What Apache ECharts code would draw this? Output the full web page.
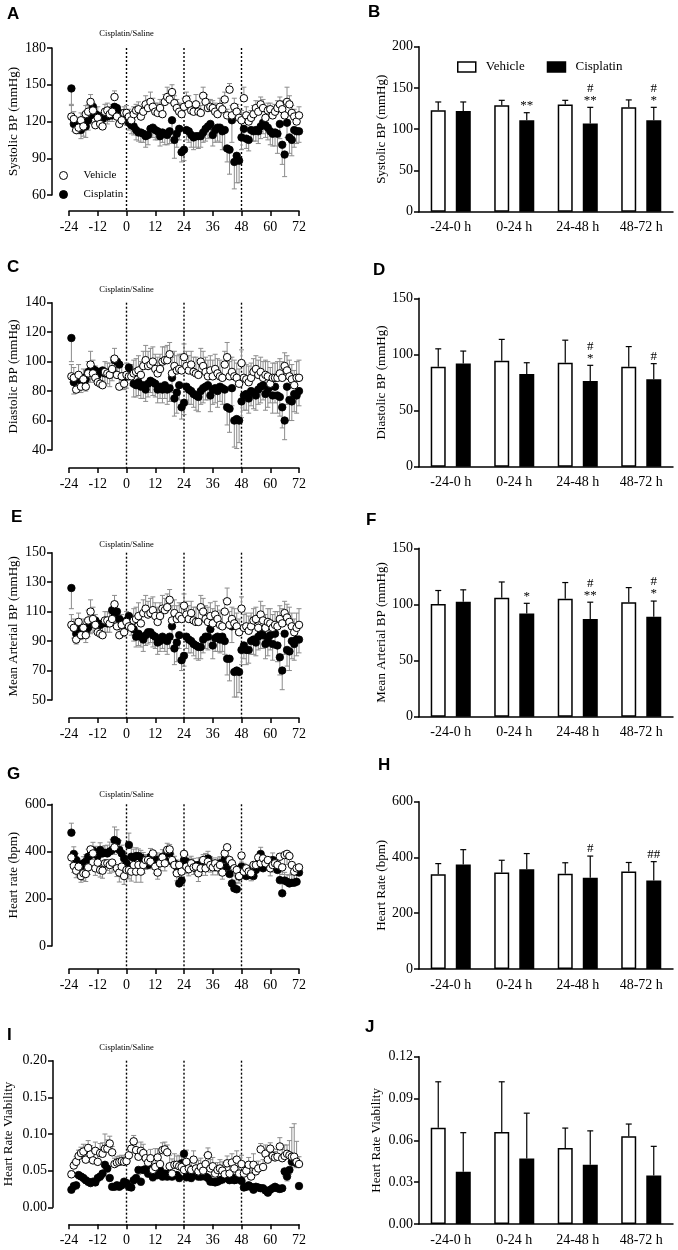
<!DOCTYPE html>
<html>
<head>
<meta charset="utf-8">
<script src="https://cdn.jsdelivr.net/npm/echarts@6/dist/echarts.min.js"></script>
<style>
  html, body { margin: 0; padding: 0; background: #fff; }
  #chart { width: 678px; height: 1250px; }
</style>
</head>
<body>
<div id="chart"></div>
<script>
// hourly samples, -23 h .. 72 h
const hours = [];
for (let h = -23; h <= 72; h++) hours.push(h);
const treatmentHours = [0, 24, 48];
const groups = ['-24-0 h', '0-24 h', '24-48 h', '48-72 h'];

// ---- A: systolic BP time course ----
const sbpVehicle = [124,122,113,115,121,116,126,128,136,129,117,123, 118,116,128,129,126,128,140,124,118,121,127,127,
  124,121,126,129,130,124,128,134,131,136,132,128, 127,131,126,136,140,138,144,135,131,128,126,132,
  138,134,129,128,134,128,127,141,136,131,132,131, 128,126,132,130,138,125,146,125,132,128,123,121,
  139,125,120,123,126,131,128,134,131,123,129,130, 125,128,131,134,130,125,136,134,127,124,120,125];
const sbpVehicleErr = [9,6,5,6,6,6,7,6,6,6,8,9, 8,8,6,6,6,6,5,5,5,6,5,6, 6,6,6,5,6,7,6,7,7,8,7,7, 8,7,7,6,8,7,6,6,7,7,8,7,
  6,7,6,7,8,7,6,7,6,7,6,6, 7,6,7,7,6,5,5,8,7,6,5,8, 9,7,6,6,7,6,5,6,7,6,6,5, 6,6,6,6,7,7,12,7,6,6,7,7];
const sbpCisplatin = [147,118,117,117,113,116,116,121,125,132,126,125, 123,122,126,124,125,125,132,131,127,124,123,123,
  119,117,116,113,111,111,110,108,109,114,115,113, 112,108,111,110,109,112,121,105,110,114,95,97,
  113,112,109,107,108,108,108,111,114,116,118,109, 113,115,115,112,113,98,97,121,87,92,88,107,
  114,106,105,113,112,113,112,116,119,117,115,112, 110,111,110,118,101,93,119,107,105,113,112,112];
const sbpCisplatinErr = [13,6,6,7,7,8,9,8,7,8,6,8, 6,7,6,6,5,5,6,5,6,6,5,6, 6,7,7,8,7,8,7,9,8,7,8,8, 7,8,8,9,8,10,12,15,11,9,8,9,
  8,9,10,10,9,10,9,8,10,10,11,9, 10,11,12,15,16,11,20,18,22,22,18,10, 9,8,9,9,8,9,10,10,9,10,10,11, 10,11,16,12,16,18,12,13,13,14,10,9];

// ---- C: diastolic BP time course ----
const dbpVehicle = [90,89,81,91,83,88,83,92,98,92,89,86, 85,84,93,92,91,95,102,91,83,90,85,91,
  90,90,92,93,94,91,97,101,97,98,100,95, 92,95,100,101,101,105,92,97,94,95,94,103,
  97,94,98,93,92,91,100,97,93,90,94,90, 95,92,90,89,98,103,90,93,90,89,85,99,
  89,88,86,89,93,95,91,93,89,91,90,85, 89,89,89,92,89,97,94,90,88,84,89,89];
const dbpVehicleErr = [8,7,8,7,8,7,7,8,9,9,8,8, 8,8,7,7,8,8,7,8,7,8,7,8, 8,8,9,9,10,9,10,10,10,11,10,10, 11,10,10,9,10,8,11,10,10,10,11,9,
  10,10,9,10,11,10,9,10,10,11,10,11, 10,10,11,10,9,10,10,10,11,10,10,9, 10,10,11,10,9,9,10,10,11,10,10,11, 10,10,11,10,11,9,10,11,10,10,11,12];
const dbpCisplatin = [116,86,88,90,87,89,88,93,94,95,94,91, 93,94,92,92,91,94,101,100,98,90,89,90,
  96,92,85,84,86,83,84,81,85,87,86,85, 81,83,81,84,81,82,89,75,79,84,69,72,
  83,81,80,78,77,76,80,82,83,84,77,81, 82,80,83,82,81,69,68,82,60,61,60,73,
  77,78,75,80,79,77,81,83,84,78,81,83, 77,83,77,76,69,60,83,74,73,78,77,80];
const dbpCisplatinErr = [16,8,8,7,8,7,8,7,8,7,8,7, 8,7,8,7,8,7,7,8,8,8,8,8, 8,8,9,8,9,8,9,8,9,8,9,9, 9,8,9,9,10,9,10,12,14,10,8,8,
  9,10,9,9,10,10,9,10,9,10,11,10, 10,11,10,11,10,12,16,12,18,20,15,11, 10,11,10,10,11,10,10,11,10,11,12,11, 12,11,12,13,14,13,12,14,13,12,12,10];

// ---- E: mean arterial BP time course ----
const mapVehicle = [101,99,91,103,94,99,94,104,110,105,101,96, 95,94,104,104,102,105,115,100,94,101,96,103,
  100,99,104,105,107,102,109,112,108,109,111,107, 103,107,112,111,113,118,104,109,105,107,105,114,
  108,105,109,104,103,103,113,110,105,103,107,102, 108,105,101,100,110,117,101,105,102,100,96,112,
  99,100,97,100,104,105,99,108,104,99,103,102, 99,101,100,105,102,109,106,103,100,96,99,101];
const mapVehicleErr = [7,6,7,6,7,6,7,7,8,8,7,7, 7,7,6,6,7,7,6,7,6,7,6,7, 7,7,8,8,9,8,9,9,9,10,9,9, 10,9,9,8,9,7,10,9,9,9,10,8,
  9,9,8,9,10,9,8,9,9,10,9,10, 9,9,10,9,8,9,9,8,10,9,9,8, 9,9,10,9,8,8,9,9,10,9,9,10, 9,9,10,9,10,8,9,10,9,9,10,11];
const mapCisplatin = [126,99,95,98,98,99,96,99,102,102,104,102, 101,102,103,102,103,111,109,110,105,101,100,104,
  107,101,98,93,95,93,91,94,96,96,94,93, 89,90,93,91,90,93,100,85,89,94,77,80,
  93,91,90,88,87,86,86,91,93,93,98,87, 92,93,91,93,90,78,78,100,69,70,69,84,
  87,84,84,90,91,89,93,95,94,88,91,94, 88,95,87,79,70,95,84,83,90,88,91,91];
const mapCisplatinErr = [14,7,7,6,7,6,7,6,7,6,7,6, 7,6,7,6,7,6,6,7,7,7,7,7, 7,7,8,7,8,7,8,7,8,7,8,8, 8,7,8,8,9,8,9,11,13,9,7,7,
  8,9,8,8,9,9,8,9,8,9,10,9, 9,10,9,10,9,11,15,11,17,18,14,10, 9,10,9,9,10,9,9,10,9,10,11,10, 11,10,11,12,13,14,11,13,12,11,11,9];

// ---- G: heart rate time course ----
const hrVehicle = [375,339,319,336,296,308,305,333,409,392,329,353, 322,319,350,350,343,353,418,329,311,336,296,322,
  322,315,343,315,343,315,343,364,364,357,392,336, 311,350,375,350,407,409,364,343,308,343,315,390,
  336,325,350,333,336,308,329,364,329,357,343,333, 350,333,343,311,392,418,364,350,329,322,296,383,
  315,329,315,308,343,343,375,350,371,350,364,329, 343,350,343,378,333,385,390,381,343,315,329,333];
const hrVehicleErr = [30,28,30,28,26,30,32,30,28,26,30,28, 30,32,28,30,35,40,30,35,40,38,35,30, 38,40,35,45,35,45,35,40,30,30,28,30,
  28,30,30,32,28,30,28,30,32,30,30,28, 30,28,30,30,32,35,30,28,30,28,30,32, 30,32,30,28,30,35,28,30,32,30,30,28,
  30,28,30,32,28,30,28,30,30,28,30,32, 30,28,30,32,30,40,45,35,40,35,30,30];
const hrCisplatin = [480,390,364,343,336,350,357,378,385,404,392,381, 407,392,395,392,400,407,449,442,407,392,371,350,
  428,378,375,381,381,375,364,357,343,378,375,364, 364,357,378,364,400,392,357,350,336,265,277,364,
  357,343,350,343,329,343,343,357,364,371,350,343, 333,343,350,322,367,336,305,265,244,240,294,336,
  322,296,301,301,296,322,350,390,329,343,343,336, 364,343,322,279,223,277,272,265,268,268,272,311];
const hrCisplatinErr = [40,30,28,25,25,28,30,32,30,35,30,28, 30,28,30,35,40,45,55,50,40,35,30,28, 50,40,35,35,30,30,32,30,30,35,30,30,
  30,28,30,28,35,38,32,30,28,30,25,30, 28,30,30,28,28,30,32,30,28,30,28,30, 28,30,28,30,30,32,30,32,35,30,30,30,
  28,30,28,28,30,28,30,28,28,30,28,30, 30,28,30,35,40,35,30,35,40,35,30,30];

// ---- I: heart rate variability time course ----
const hrvVehicle = [.045,.057,.062,.070,.074,.076,.065,.081,.072,.064,.077,.062, .074,.073,.080,.080,.087,.075,.059,.061,.062,.063,.062,.063,
  .071,.080,.090,.078,.069,.077,.074,.067,.061,.067,.051,.055, .068,.059,.078,.079,.075,.056,.046,.058,.058,.056,.055,.051,
  .062,.053,.051,.065,.053,.049,.055,.050,.059,.071,.053,.056, .046,.051,.053,.050,.045,.060,.046,.061,.053,.065,.046,.059,
  .046,.050,.058,.042,.058,.049,.053,.079,.055,.073,.065,.080, .070,.068,.069,.083,.067,.070,.073,.071,.069,.069,.062,.059];
const hrvVehicleErr = [.005,.006,.007,.008,.008,.010,.012,.010,.012,.010,.012,.014, .013,.015,.020,.012,.010,.008,.008,.008,.008,.008,.008,.009,
  .010,.010,.008,.010,.010,.012,.012,.010,.010,.012,.015,.025, .012,.015,.010,.010,.010,.015,.020,.015,.012,.015,.014,.015,
  .016,.010,.010,.012,.012,.015,.012,.010,.012,.010,.012,.012, .010,.010,.012,.012,.010,.010,.010,.012,.012,.012,.008,.012,
  .012,.010,.010,.012,.015,.010,.010,.008,.010,.012,.010,.008, .010,.008,.010,.012,.012,.015,.012,.020,.040,.045,.028,.010];
const hrvCisplatin = [.024,.029,.030,.044,.042,.040,.037,.035,.033,.035,.034,.040, .042,.046,.058,.053,.040,.028,.028,.030,.028,.030,.035,.033,
  .028,.027,.037,.040,.051,.035,.051,.052,.046,.053,.041,.044, .044,.051,.042,.046,.042,.046,.042,.044,.044,.040,.060,.073,
  .041,.044,.040,.044,.044,.042,.042,.044,.042,.040,.035,.035, .034,.035,.037,.038,.040,.040,.037,.041,.037,.038,.040,.036,
  .027,.028,.030,.028,.024,.028,.027,.026,.026,.023,.020,.024, .026,.028,.026,.025,.026,.049,.042,.051,.062,.064,.060,.029];
const hrvCisplatinErr = [.004,.005,.005,.005,.004,.005,.004,.005,.004,.005,.004,.005, .005,.005,.006,.005,.004,.004,.004,.004,.004,.004,.005,.004,
  .004,.004,.005,.005,.006,.005,.005,.005,.005,.006,.005,.005, .005,.006,.005,.005,.005,.005,.005,.005,.005,.005,.006,.008,
  .005,.005,.005,.005,.005,.005,.005,.005,.005,.005,.004,.004, .004,.004,.005,.005,.005,.005,.004,.005,.004,.005,.005,.004,
  .004,.004,.004,.004,.004,.004,.004,.004,.004,.004,.003,.004, .004,.004,.004,.004,.004,.006,.006,.006,.007,.006,.006,.004];

// ---- bar panels (mean, error, significance marks over Cisplatin) ----
const sbpBarVehicle = [123, 129, 130, 126.5];
const sbpBarVehicleErr = [10, 6, 5, 9];
const sbpBarCisplatin = [122, 111, 107, 111];
const sbpBarCisplatinErr = [11, 9, 19.5, 15.5];
const sbpSig = ['', '**', '#\n**', '#\n*'];

const dbpBarVehicle = [89, 94.4, 92.7, 89];
const dbpBarVehicleErr = [16, 19, 20, 18];
const dbpBarCisplatin = [92, 82.6, 76.3, 77.8];
const dbpBarCisplatinErr = [11, 10, 14, 14];
const dbpSig = ['', '', '#\n*', '#'];

const mapBarVehicle = [100.4, 106, 105, 102];
const mapBarVehicleErr = [12, 14, 14.5, 13];
const mapBarCisplatin = [102.5, 92, 87, 89];
const mapBarCisplatinErr = [10.5, 9, 15, 14];
const mapSig = ['', '*', '#\n**', '#\n*'];

const hrBarVehicle = [340, 346, 342, 350];
const hrBarVehicleErr = [38, 44, 39, 32];
const hrBarCisplatin = [375, 358, 327, 317];
const hrBarCisplatinErr = [53, 56, 78, 68];
const hrSig = ['', '', '#', '##'];

const hrvBarVehicle = [0.069, 0.066, 0.0545, 0.063];
const hrvBarVehicleErr = [0.033, 0.036, 0.0143, 0.0087];
const hrvBarCisplatin = [0.0375, 0.047, 0.0425, 0.0347];
const hrvBarCisplatinErr = [0.028, 0.0325, 0.0243, 0.021];
const hrvSig = ['', '', '', ''];

const SERIF = '"Liberation Serif", "Times New Roman", serif';
const SANS = '"Liberation Sans", Arial, sans-serif';
const ERR_GRAY = '#8c8c8c';

const option = {
    animation: false,
    backgroundColor: '#fff',
    grid: [], xAxis: [], yAxis: [], series: [], legend: [], graphic: []
};

function axisStyle() {
    return {
        axisLine: { show: true, onZero: false, lineStyle: { color: '#000', width: 1.5 } },
        axisTick: { show: true, inside: false, length: 5, lineStyle: { color: '#000', width: 1.5 } },
        splitLine: { show: false }
    };
}

function fmt(digits) {
    return function (v) { return digits ? v.toFixed(digits) : String(Math.round(v)); };
}

/**
 * Time course panel: scatter of hourly means with one-sided gray error bars.
 */
function addTimePanel(p) {
    const k = option.grid.length;
    option.grid.push({ left: 69, width: 230, top: p.top, height: p.height });
    option.xAxis.push(Object.assign({
        type: 'value', gridIndex: k, min: -24, max: 72, interval: 12, offset: p.xOffset,
        axisLabel: { color: '#000', fontFamily: SERIF, fontSize: 14, margin: 9 }
    }, axisStyle()));
    option.yAxis.push(Object.assign({
        type: 'value', gridIndex: k, min: p.min, max: p.max, interval: p.interval, offset: 69 - p.axisX,
        name: p.name, nameLocation: 'middle', nameGap: p.nameGap,
        nameTextStyle: { color: '#000', fontFamily: SERIF, fontSize: 13 },
        axisLabel: { color: '#000', fontFamily: SERIF, fontSize: 14, margin: 6, formatter: fmt(p.digits) }
    }, axisStyle()));

    // dotted lines at dosing times, down to the shifted x axis
    option.series.push({
        type: 'custom', xAxisIndex: k, yAxisIndex: k, silent: true, z: 1,
        data: treatmentHours.map(function (h) { return [h, p.max]; }),
        renderItem: function (params, api) {
            const h = api.value(0);
            const top = api.coord([h, p.max]);
            const bottom = api.coord([h, p.min]);
            const children = [{
                type: 'line',
                shape: { x1: top[0], y1: top[1], x2: top[0], y2: bottom[1] + p.xOffset },
                style: { stroke: '#000', lineWidth: 1.4, lineDash: [2, 2] }
            }];
            if (h === 0) {
                children.push({
                    type: 'text',
                    style: {
                        text: 'Cisplatin/Saline', x: top[0], y: top[1] - p.labelGap,
                        align: 'center', verticalAlign: 'middle',
                        fontFamily: SERIF, fontSize: 8.5, fill: '#000'
                    }
                });
            }
            return { type: 'group', children: children };
        }
    });

    function errorSeries(values, errs, dir) {
        return {
            type: 'custom', xAxisIndex: k, yAxisIndex: k, silent: true, z: 2,
            data: hours.map(function (h, i) { return [h, values[i], errs[i]]; }),
            renderItem: function (params, api) {
                const x = api.value(0), y = api.value(1), e = api.value(2);
                const a = api.coord([x, y]);
                const b = api.coord([x, y + dir * e]);
                const st = { stroke: ERR_GRAY, lineWidth: 1 };
                return {
                    type: 'group', children: [
                        { type: 'line', shape: { x1: a[0], y1: a[1], x2: b[0], y2: b[1] }, style: st },
                        { type: 'line', shape: { x1: b[0] - 2.5, y1: b[1], x2: b[0] + 2.5, y2: b[1] }, style: st }
                    ]
                };
            }
        };
    }
    option.series.push(errorSeries(p.vehicle, p.vehicleErr, p.vehicleDir));
    option.series.push(errorSeries(p.cisplatin, p.cisplatinErr, -p.vehicleDir));

    option.series.push({
        name: 'Cisplatin', type: 'scatter', xAxisIndex: k, yAxisIndex: k, z: 3,
        symbol: 'circle', symbolSize: 7.5,
        itemStyle: { color: '#000', borderColor: '#000', borderWidth: 0.8, opacity: 1 },
        data: hours.map(function (h, i) { return [h, p.cisplatin[i]]; })
    });
    option.series.push({
        name: 'Vehicle', type: 'scatter', xAxisIndex: k, yAxisIndex: k, z: 4,
        symbol: 'circle', symbolSize: 7.5,
        itemStyle: { color: '#fff', borderColor: '#000', borderWidth: 1, opacity: 1 },
        data: hours.map(function (h, i) { return [h, p.vehicle[i]]; })
    });
}

/**
 * Bar panel: grouped Vehicle / Cisplatin bars with upward error bars.
 */
function addBarPanel(p) {
    const k = option.grid.length;
    const half = 12.5; // half distance between paired bar centres (15 px bars, 10 px gap)
    option.grid.push({ left: 419, width: 254, top: p.top, height: p.height });
    const xs = axisStyle();
    xs.axisTick = { show: false };
    option.xAxis.push(Object.assign({
        type: 'category', gridIndex: k, data: groups,
        axisLabel: { color: '#000', fontFamily: SERIF, fontSize: 14, margin: 9 }
    }, xs));
    option.yAxis.push(Object.assign({
        type: 'value', gridIndex: k, min: 0, max: p.max, interval: p.interval,
        name: p.name, nameLocation: 'middle', nameGap: p.nameGap,
        nameTextStyle: { color: '#000', fontFamily: SERIF, fontSize: 13 },
        axisLabel: { color: '#000', fontFamily: SERIF, fontSize: 14, margin: 6, formatter: fmt(p.digits) }
    }, axisStyle()));

    option.series.push({
        name: 'Vehicle', type: 'bar', xAxisIndex: k, yAxisIndex: k, barWidth: 15, barGap: '67%',
        itemStyle: { color: '#fff', borderColor: '#000', borderWidth: 1.5 },
        data: p.vehicle
    });
    option.series.push({
        name: 'Cisplatin', type: 'bar', xAxisIndex: k, yAxisIndex: k, barWidth: 15, barGap: '67%',
        itemStyle: { color: '#000', borderColor: '#000', borderWidth: 1.5 },
        data: p.cisplatin
    });

    function errorSeries(values, errs, shift, marks) {
        return {
            type: 'custom', xAxisIndex: k, yAxisIndex: k, silent: true, z: 5,
            data: values.map(function (v, i) { return [i, v, errs[i]]; }),
            renderItem: function (params, api) {
                const i = api.value(0), y = api.value(1), e = api.value(2);
                const a = api.coord([i, y]);
                const b = api.coord([i, y + e]);
                const x = a[0] + shift;
                const st = { stroke: '#000', lineWidth: 1.2 };
                const children = [
                    { type: 'line', shape: { x1: x, y1: a[1], x2: x, y2: b[1] }, style: st },
                    { type: 'line', shape: { x1: x - 3, y1: b[1], x2: x + 3, y2: b[1] }, style: st }
                ];
                if (marks && marks[params.dataIndex]) {
                    children.push({
                        type: 'text',
                        style: {
                            text: marks[params.dataIndex], x: x, y: b[1] - 1,
                            align: 'center', verticalAlign: 'bottom', lineHeight: 12,
                            fontFamily: SERIF, fontSize: 13, fill: '#000'
                        }
                    });
                }
                return { type: 'group', children: children };
            }
        };
    }
    option.series.push(errorSeries(p.vehicle, p.vehicleErr, -half, null));
    option.series.push(errorSeries(p.cisplatin, p.cisplatinErr, half, p.sig));
}

addTimePanel({ top: 48, height: 147, axisX: 52, xOffset: 16, min: 60, max: 180, interval: 30, digits: 0,
    name: 'Systolic BP (mmHg)', nameGap: 32, labelGap: 14,
    vehicle: sbpVehicle, vehicleErr: sbpVehicleErr, cisplatin: sbpCisplatin, cisplatinErr: sbpCisplatinErr, vehicleDir: 1 });
addTimePanel({ top: 302.7, height: 147.3, axisX: 52, xOffset: 18, min: 40, max: 140, interval: 20, digits: 0,
    name: 'Diastolic BP (mmHg)', nameGap: 32, labelGap: 13,
    vehicle: dbpVehicle, vehicleErr: dbpVehicleErr, cisplatin: dbpCisplatin, cisplatinErr: dbpCisplatinErr, vehicleDir: 1 });
addTimePanel({ top: 552.7, height: 147.3, axisX: 52, xOffset: 18, min: 50, max: 150, interval: 20, digits: 0,
    name: 'Mean Arterial BP (mmHg)', nameGap: 32, labelGap: 8,
    vehicle: mapVehicle, vehicleErr: mapVehicleErr, cisplatin: mapCisplatin, cisplatinErr: mapCisplatinErr, vehicleDir: 1 });
addTimePanel({ top: 804.3, height: 141.7, axisX: 52, xOffset: 23, min: 0, max: 600, interval: 200, digits: 0,
    name: 'Heart rate (bpm)', nameGap: 32, labelGap: 9.5,
    vehicle: hrVehicle, vehicleErr: hrVehicleErr, cisplatin: hrCisplatin, cisplatinErr: hrCisplatinErr, vehicleDir: -1 });
addTimePanel({ top: 1060.7, height: 146.6, axisX: 53, xOffset: 17, min: 0, max: 0.2, interval: 0.05, digits: 2,
    name: 'Heart Rate Viability', nameGap: 38, labelGap: 13,
    vehicle: hrvVehicle, vehicleErr: hrvVehicleErr, cisplatin: hrvCisplatin, cisplatinErr: hrvCisplatinErr, vehicleDir: 1 });

addBarPanel({ top: 46.7, height: 165, max: 200, interval: 50, digits: 0, name: 'Systolic BP (mmHg)', nameGap: 31,
    vehicle: sbpBarVehicle, vehicleErr: sbpBarVehicleErr, cisplatin: sbpBarCisplatin, cisplatinErr: sbpBarCisplatinErr, sig: sbpSig });
addBarPanel({ top: 298.3, height: 168.4, max: 150, interval: 50, digits: 0, name: 'Diastolic BP (mmHg)', nameGap: 31,
    vehicle: dbpBarVehicle, vehicleErr: dbpBarVehicleErr, cisplatin: dbpBarCisplatin, cisplatinErr: dbpBarCisplatinErr, sig: dbpSig });
addBarPanel({ top: 548.3, height: 168.4, max: 150, interval: 50, digits: 0, name: 'Mean Arterial BP (mmHg)', nameGap: 31,
    vehicle: mapBarVehicle, vehicleErr: mapBarVehicleErr, cisplatin: mapBarCisplatin, cisplatinErr: mapBarCisplatinErr, sig: mapSig });
addBarPanel({ top: 801.7, height: 167.3, max: 600, interval: 200, digits: 0, name: 'Heart Rate (bpm)', nameGap: 31,
    vehicle: hrBarVehicle, vehicleErr: hrBarVehicleErr, cisplatin: hrBarCisplatin, cisplatinErr: hrBarCisplatinErr, sig: hrSig });
addBarPanel({ top: 1056.7, height: 167.3, max: 0.12, interval: 0.03, digits: 2, name: 'Heart Rate Viability', nameGap: 36,
    vehicle: hrvBarVehicle, vehicleErr: hrvBarVehicleErr, cisplatin: hrvBarCisplatin, cisplatinErr: hrvBarCisplatinErr, sig: hrvSig });

// legends: circles for panel A, boxes for panel B
option.legend.push({
    left: 54, top: 165, orient: 'vertical', itemWidth: 8, itemHeight: 8, itemGap: 8,
    selectedMode: false,
    textStyle: { color: '#000', fontFamily: SERIF, fontSize: 11, padding: [0, 0, 0, 11] },
    data: [
        { name: 'Vehicle', icon: 'circle', itemStyle: { color: '#fff', borderColor: '#000', borderWidth: 1 } },
        { name: 'Cisplatin', icon: 'circle', itemStyle: { color: '#000', borderColor: '#000', borderWidth: 1 } }
    ]
});
option.legend.push({
    left: 452, top: 55.5, orient: 'horizontal', itemWidth: 18, itemHeight: 10, itemGap: 22,
    selectedMode: false,
    textStyle: { color: '#000', fontFamily: SERIF, fontSize: 13, padding: [0, 0, 0, 5] },
    data: [
        { name: 'Vehicle', icon: 'rect', itemStyle: { color: '#fff', borderColor: '#000', borderWidth: 1.5 } },
        { name: 'Cisplatin', icon: 'rect', itemStyle: { color: '#000', borderColor: '#000', borderWidth: 1.5 } }
    ]
});

// panel letters
const panelLetters = [
    ['A', 7, 6], ['B', 368, 4], ['C', 7, 259], ['D', 373, 262],
    ['E', 11, 509], ['F', 366, 512], ['G', 7, 766], ['H', 378, 757],
    ['I', 7, 1027], ['J', 365, 1019]
];
panelLetters.forEach(function (l) {
    option.graphic.push({
        type: 'text', left: l[1], top: l[2],
        style: { text: l[0], fontFamily: SANS, fontWeight: 'bold', fontSize: 17, fill: '#000' }
    });
});

const chart = echarts.init(document.getElementById('chart'));
chart.setOption(option);
</script>
</body>
</html>
